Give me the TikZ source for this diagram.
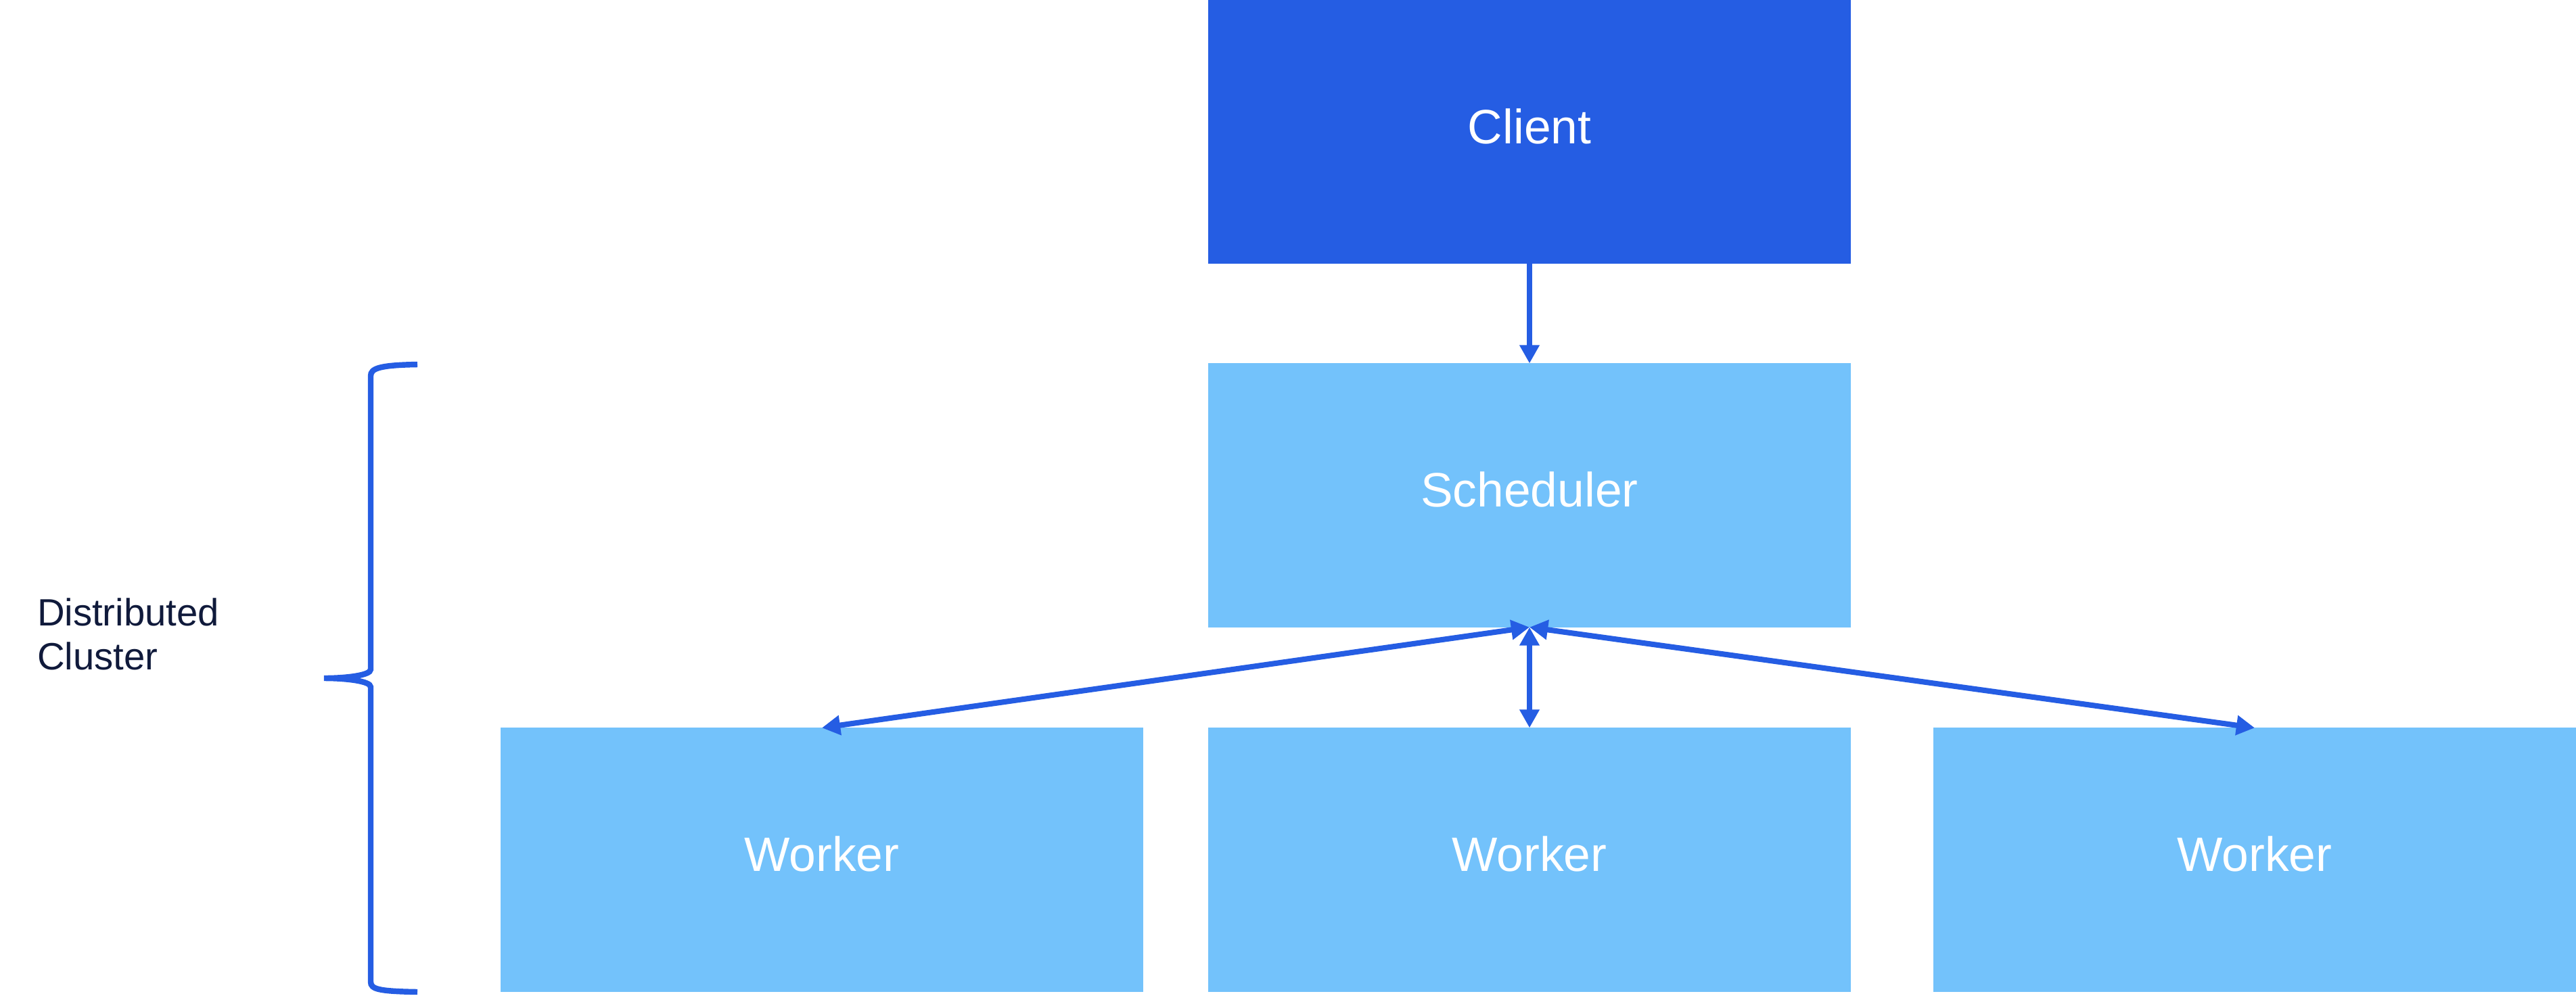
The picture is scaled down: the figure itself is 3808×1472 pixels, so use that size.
\documentclass[tikz,border=0pt]{standalone}
\usepackage{fontspec}
\setmainfont{Liberation Sans}
\usetikzlibrary{arrows.meta}
\definecolor{dblue}{RGB}{37,93,227}
\definecolor{lblue}{RGB}{115,194,251}
\definecolor{navy}{RGB}{16,26,59}
\begin{document}
\begin{tikzpicture}[x=0.01cm,y=-0.01cm,
  box/.style={minimum width=9.5cm, minimum height=3.9cm, inner sep=0pt, outer sep=0pt,
    text=white, font=\fontsize{20.3}{24}\selectfont, text height=14.5pt, text depth=4.6pt},
  clientbox/.style={box, fill=dblue},
  lightbox/.style={box, fill=lblue},
  conn/.style={draw=dblue, line width=2.3pt, -{Triangle[length=7.7pt,width=8pt]}},
  bothconn/.style={draw=dblue, line width=2.3pt, {Triangle[length=7.7pt,width=8pt]}-{Triangle[length=7.7pt,width=8pt]}},
  bracestyle/.style={draw=dblue, line width=2.4pt, line cap=butt},
  labeltext/.style={text=navy, font=\fontsize{16}{18.5}\selectfont, align=left, inner sep=0pt, outer sep=0pt}
]
\useasboundingbox[fill=white] (0,0) rectangle (3808,1472);

\node[clientbox] (client) at (2261,195) {Client};
\node[lightbox] (sched) at (2261,732.5) {Scheduler};
\node[lightbox] (w1) at (1215,1271.5) {Worker};
\node[lightbox] (w2) at (2261,1271.5) {Worker};
\node[lightbox] (w3) at (3333,1271.5) {Worker};

\draw[conn] (client.south) -- (sched.north);
\draw[bothconn] (sched.south) -- (w1.north);
\draw[bothconn] (sched.south) -- (w2.north);
\draw[bothconn] (sched.south) -- (w3.north);

\draw[bracestyle] (617,539) .. controls (560,540) and (548,545) .. (548,556)
  -- (548,990) .. controls (548,999) and (510,1003) .. (479,1003)
  .. controls (510,1003) and (548,1007) .. (548,1016)
  -- (548,1452) .. controls (548,1463) and (560,1466) .. (617,1467);

\node[labeltext, anchor=west] (cluster) at (55,938) {Distributed\\Cluster};
\end{tikzpicture}
\end{document}
